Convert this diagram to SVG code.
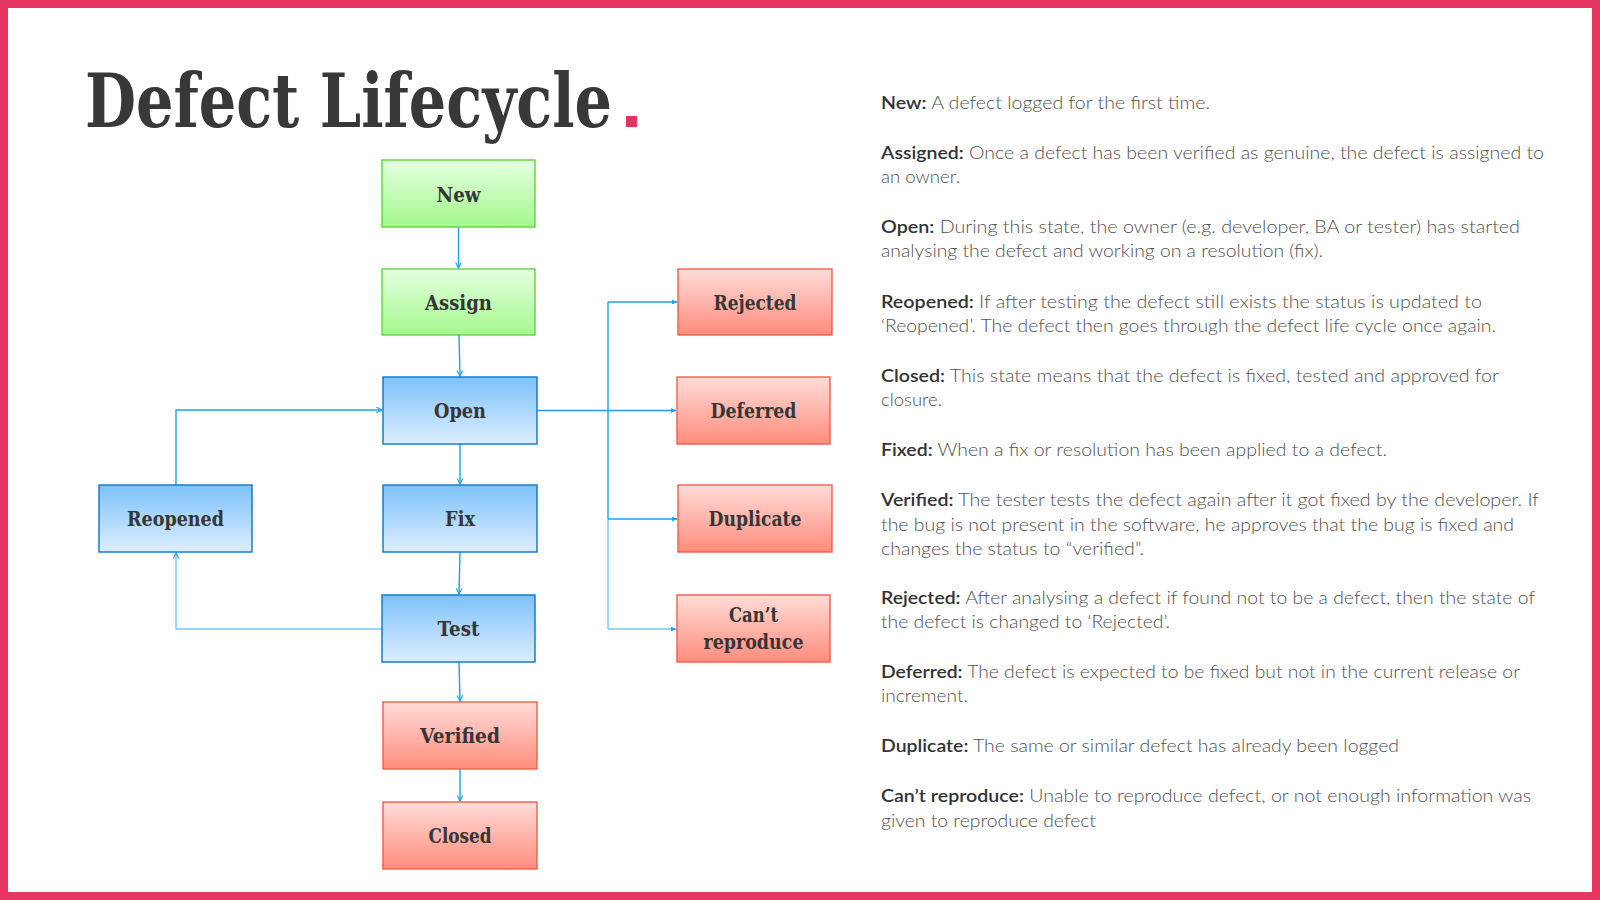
<svg xmlns="http://www.w3.org/2000/svg" width="1600" height="900" viewBox="0 0 1600 900">
  <defs>
    <linearGradient id="gGreen" x1="0" y1="0" x2="0" y2="1">
      <stop offset="0" stop-color="#E4FFE0"/>
      <stop offset="1" stop-color="#A4F88D"/>
    </linearGradient>
    <linearGradient id="gBlue" x1="0" y1="0" x2="0" y2="1">
      <stop offset="0" stop-color="#7DC1FA"/>
      <stop offset="1" stop-color="#DDEEFF"/>
    </linearGradient>
    <linearGradient id="gRed" x1="0" y1="0" x2="0" y2="1">
      <stop offset="0" stop-color="#FFDCD8"/>
      <stop offset="1" stop-color="#FF8C7C"/>
    </linearGradient>
    <marker id="chev" viewBox="0 0 10 10" refX="9" refY="5" markerWidth="7" markerHeight="7" markerUnits="userSpaceOnUse" orient="auto">
      <path d="M1,1 L9,5 L1,9" fill="none" stroke="#1AA0F0" stroke-width="1.6"/>
    </marker>
    <marker id="tri" viewBox="0 0 10 10" refX="9" refY="5" markerWidth="6" markerHeight="6" markerUnits="userSpaceOnUse" orient="auto">
      <path d="M0,1 L10,5 L0,9 Z" fill="#1AA0F0"/>
    </marker>
  </defs>
  <style>
    .green { fill: url(#gGreen); stroke: #5CD63A; stroke-width: 1.4; }
    .blue { fill: url(#gBlue); stroke: #0B76C4; stroke-width: 1.4; }
    .red { fill: url(#gRed); stroke: #F45D4A; stroke-width: 1.4; }
    .lbl { font-family: "DejaVu Serif", serif; font-weight: bold; font-size: 21px; fill: #363636; text-anchor: middle; }
    .title { font-family: "DejaVu Serif", serif; font-weight: bold; font-size: 74px; fill: #383838; }
    .conn { fill: none; stroke: #1AA0F0; stroke-width: 1.4; }
    .conn.soft { stroke: #72C8FA; }
    .desc { font-family: Lato, "Open Sans", "Liberation Sans", sans-serif; font-weight: 300; font-size: 18px; fill: #505050; }
    .desc .key { font-weight: 600; fill: #333333; }
  </style>

  <!-- frame -->
  <rect x="0" y="0" width="1600" height="900" fill="#E3355F"/>
  <rect x="8" y="8" width="1584" height="884" fill="#FFFFFF"/>

  <!-- heading with its square pink accent -->
  <text class="title" x="85" y="127" textLength="527" lengthAdjust="spacingAndGlyphs">Defect Lifecycle</text>
  <rect x="626" y="116" width="11" height="11" fill="#E3355F"/>

  <!-- connectors -->
  <g id="connectors">
    <path class="conn" d="M458.5,227 V268" marker-end="url(#chev)"/>
    <path class="conn" d="M459,335 L460,376" marker-end="url(#chev)"/>
    <path class="conn" d="M460,444 V484" marker-end="url(#chev)"/>
    <path class="conn" d="M460,552 L459,594" marker-end="url(#chev)"/>
    <path class="conn" d="M459,662 L460,701" marker-end="url(#chev)"/>
    <path class="conn" d="M460,769 V801" marker-end="url(#chev)"/>
    <path class="conn soft" d="M383,629 H176 V553" marker-end="url(#chev)"/>
    <path class="conn" d="M176,485 V410 H382" marker-end="url(#chev)"/>
    <path class="conn" d="M537,410.5 H608"/>
    <path class="conn" d="M608,302 V519"/>
    <path class="conn soft" d="M608,519 V629"/>
    <path class="conn" d="M608,302 H677" marker-end="url(#tri)"/>
    <path class="conn" d="M608,410.5 H676" marker-end="url(#tri)"/>
    <path class="conn" d="M608,519 H677" marker-end="url(#tri)"/>
    <path class="conn soft" d="M608,629 H676" marker-end="url(#tri)"/>
  </g>

  <!-- states -->
  <g id="node-new">
    <rect class="green" x="382" y="160" width="153" height="67"/>
    <text class="lbl" x="458.5" y="202" textLength="44" lengthAdjust="spacingAndGlyphs">New</text>
  </g>
  <g id="node-assign">
    <rect class="green" x="382" y="269" width="153" height="66"/>
    <text class="lbl" x="458.5" y="310" textLength="67" lengthAdjust="spacingAndGlyphs">Assign</text>
  </g>
  <g id="node-open">
    <rect class="blue" x="383" y="377" width="154" height="67"/>
    <text class="lbl" x="460" y="418" textLength="52" lengthAdjust="spacingAndGlyphs">Open</text>
  </g>
  <g id="node-reopened">
    <rect class="blue" x="99" y="485" width="153" height="67"/>
    <text class="lbl" x="175.5" y="526" textLength="97" lengthAdjust="spacingAndGlyphs">Reopened</text>
  </g>
  <g id="node-fix">
    <rect class="blue" x="383" y="485" width="154" height="67"/>
    <text class="lbl" x="460" y="526" textLength="30" lengthAdjust="spacingAndGlyphs">Fix</text>
  </g>
  <g id="node-test">
    <rect class="blue" x="382" y="595" width="153" height="67"/>
    <text class="lbl" x="458.5" y="636" textLength="42" lengthAdjust="spacingAndGlyphs">Test</text>
  </g>
  <g id="node-verified">
    <rect class="red" x="383" y="702" width="154" height="67"/>
    <text class="lbl" x="460" y="743" textLength="80" lengthAdjust="spacingAndGlyphs">Verified</text>
  </g>
  <g id="node-closed">
    <rect class="red" x="383" y="802" width="154" height="67"/>
    <text class="lbl" x="460" y="843" textLength="63" lengthAdjust="spacingAndGlyphs">Closed</text>
  </g>
  <g id="node-rejected">
    <rect class="red" x="678" y="269" width="154" height="66"/>
    <text class="lbl" x="755" y="310" textLength="83" lengthAdjust="spacingAndGlyphs">Rejected</text>
  </g>
  <g id="node-deferred">
    <rect class="red" x="677" y="377" width="153" height="67"/>
    <text class="lbl" x="753.5" y="418" textLength="86" lengthAdjust="spacingAndGlyphs">Deferred</text>
  </g>
  <g id="node-duplicate">
    <rect class="red" x="678" y="485" width="154" height="67"/>
    <text class="lbl" x="755" y="526" textLength="93" lengthAdjust="spacingAndGlyphs">Duplicate</text>
  </g>
  <g id="node-cant-reproduce">
    <rect class="red" x="677" y="595" width="153" height="67"/>
    <text class="lbl" x="753.5" y="622" textLength="49" lengthAdjust="spacingAndGlyphs">Can’t</text>
    <text class="lbl" x="753.5" y="649" textLength="100" lengthAdjust="spacingAndGlyphs">reproduce</text>
  </g>

  <!-- glossary -->
  <g id="glossary" class="desc">
    <text x="881" y="109" textLength="329" lengthAdjust="spacingAndGlyphs"><tspan class="key">New:</tspan>  A defect logged  for the first time.</text>
    <text x="881" y="159" textLength="663" lengthAdjust="spacingAndGlyphs"><tspan class="key">Assigned:</tspan>  Once a defect has been verified as genuine, the defect is assigned to</text>
    <text x="881" y="183" textLength="79" lengthAdjust="spacingAndGlyphs">an owner.</text>
    <text x="881" y="233" textLength="639" lengthAdjust="spacingAndGlyphs"><tspan class="key">Open:</tspan>  During  this state, the owner (e.g. developer,  BA  or tester) has started</text>
    <text x="881" y="257" textLength="442" lengthAdjust="spacingAndGlyphs">analysing the defect and working  on a resolution (fix).</text>
    <text x="881" y="308" textLength="601" lengthAdjust="spacingAndGlyphs"><tspan class="key">Reopened:</tspan>  If after testing the defect still exists the status is updated to</text>
    <text x="881" y="332" textLength="615" lengthAdjust="spacingAndGlyphs">‘Reopened’.  The defect then goes  through  the defect life cycle once again.</text>
    <text x="881" y="382" textLength="618" lengthAdjust="spacingAndGlyphs"><tspan class="key">Closed:</tspan>  This state means that the defect is fixed, tested and approved  for</text>
    <text x="881" y="406" textLength="61" lengthAdjust="spacingAndGlyphs">closure.</text>
    <text x="881" y="456" textLength="506" lengthAdjust="spacingAndGlyphs"><tspan class="key">Fixed:</tspan>  When a fix or resolution  has been applied  to a defect.</text>
    <text x="881" y="506" textLength="658" lengthAdjust="spacingAndGlyphs"><tspan class="key">Verified:</tspan>  The tester tests the defect again after it got  fixed by the developer.  If</text>
    <text x="881" y="531" textLength="633" lengthAdjust="spacingAndGlyphs">the bug is not present in the software, he approves  that the bug is fixed and</text>
    <text x="881" y="555" textLength="263" lengthAdjust="spacingAndGlyphs">changes the status to “verified”.</text>
    <text x="881" y="604" textLength="654" lengthAdjust="spacingAndGlyphs"><tspan class="key">Rejected:</tspan> After analysing a defect if found not to be a defect, then the state of</text>
    <text x="881" y="628" textLength="289" lengthAdjust="spacingAndGlyphs">the defect is changed to ‘Rejected’.</text>
    <text x="881" y="678" textLength="639" lengthAdjust="spacingAndGlyphs"><tspan class="key">Deferred:</tspan> The defect is expected to be fixed but not in the current release or</text>
    <text x="881" y="702" textLength="87" lengthAdjust="spacingAndGlyphs">increment.</text>
    <text x="881" y="752" textLength="518" lengthAdjust="spacingAndGlyphs"><tspan class="key">Duplicate:</tspan> The same or similar  defect has already been logged</text>
    <text x="881" y="802" textLength="650" lengthAdjust="spacingAndGlyphs"><tspan class="key">Can’t reproduce:</tspan>  Unable to reproduce  defect, or not enough information  was</text>
    <text x="881" y="827" textLength="215" lengthAdjust="spacingAndGlyphs">given to reproduce  defect</text>
  </g>
</svg>
